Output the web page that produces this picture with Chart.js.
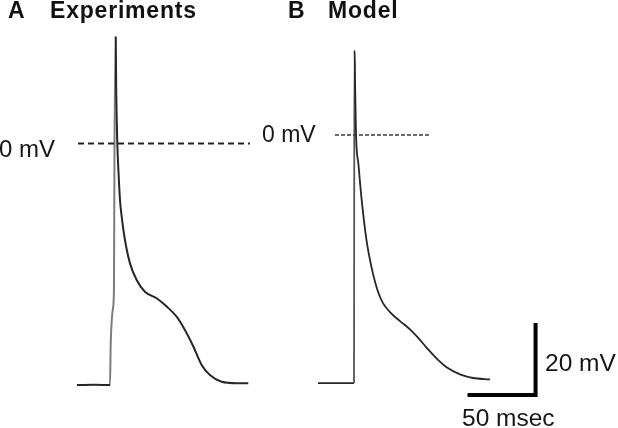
<!DOCTYPE html>
<html><head><meta charset="utf-8">
<script src="https://cdn.jsdelivr.net/npm/chart.js@4.4.0/dist/chart.umd.min.js"></script>
<style>
html,body{margin:0;padding:0;background:#fff;overflow:hidden}
#wrap{position:relative;width:618px;height:428px;overflow:hidden;background:#fff}
canvas{position:absolute;left:0;top:0}
.t{position:absolute;font-family:"Liberation Sans",Arial,Helvetica,sans-serif;line-height:1;white-space:nowrap;color:#161616}
.b{font-weight:bold;letter-spacing:0.8px;color:#111}
</style></head><body>
<div id="wrap">
<canvas id="c" width="618" height="428"></canvas>
<div class="t b" style="left:8px;top:-1px;font-size:23px">A</div>
<div class="t b" style="left:50px;top:-1px;font-size:23px">Experiments</div>
<div class="t b" style="left:288px;top:-1px;font-size:23px">B</div>
<div class="t b" style="left:328px;top:-1px;font-size:23px">Model</div>
<div class="t" style="left:-1px;top:136.5px;font-size:24px">0 mV</div>
<div class="t" style="left:262px;top:122.5px;font-size:23px">0 mV</div>
<div class="t" style="left:545px;top:351px;font-size:24.5px">20 mV</div>
<div class="t" style="left:462px;top:406px;font-size:24.5px">50 msec</div>
</div>
<script>
// ---- data (time in msec, membrane potential in mV) ----
const expTime = [-24.3, -11, 0, 0.5, 2.2, 2.9, 3.3, 4.19, 4.56, 5.37, 6.25, 7.35, 8.6, 11.0, 14.7, 19.6, 25.7, 34.3, 41.7, 49.0, 55.1, 61.3, 67.4, 73.5, 82.1, 93.2, 101.7];
const expVm   = [-67.1, -67.0, -67.1, -56.0, -45.7, -40.7, -1.8, 29.7, 14.9, 0.1, -7.9, -15.7, -20.3, -26.8, -33.3, -37.9, -41.2, -43.0, -45.3, -48.1, -51.8, -56.4, -61.5, -64.3, -66.2, -66.6, -66.6];
const modelTime = [-26.5, 0, 0.15, 0.37, 0.88, 1.47, 3.31, 5.66, 9.19, 12.87, 17.28, 21.32, 26.47, 33.82, 41.18, 47.06, 53.68, 61.03, 68.38, 77.94, 87.5, 100.0];
const modelVm   = [-68.9, -68.9, -18.1, 23.6, 12.5, 0.3, -8.3, -18.1, -29.2, -36.7, -43.1, -46.7, -49.2, -51.7, -54.0, -56.3, -59.2, -62.2, -64.6, -66.5, -67.5, -67.9];
const zeroLevel = 0;          // mV reference line
const scaleBarMs = 50;        // horizontal scale bar
const scaleBarMv = 20;        // vertical scale bar

// ---- layout (pixels) ----
const W = 618, H = 428;
const pxPerMs = 1.36, pxPerMv = 3.6;
const A = {x0: 110, y0: 143.5, zFrom: -23.5, zTo: 102.9};
const B = {x0: 354, y0: 135, zFrom: -14.0, zTo: 55.9};
const bar = {t: 83.5, v: -72.2};

function xr(p){ const mn = -p.x0/pxPerMs; return {min: mn, max: mn + W/pxPerMs}; }
function yr(p){ const mx = p.y0/pxPerMv; return {min: mx - H/pxPerMv, max: mx}; }
const pts = (xs, ys) => xs.map((x, i) => ({x, y: ys[i]}));

const traceColor = '#262626';
function seg(up){ return { borderColor: c => {
  const dx = c.p1.parsed.x - c.p0.parsed.x, dy = c.p1.parsed.y - c.p0.parsed.y;
  return (dx <= 0 || dy/dx > 5) ? up : traceColor; } }; }

const base = {pointRadius: 0, fill: false, cubicInterpolationMode: 'monotone'};
new Chart(document.getElementById('c'), {
  type: 'line',
  data: { datasets: [
    Object.assign({}, base, {data: pts([A.zFrom, A.zTo], [zeroLevel, zeroLevel]), xAxisID: 'xA', yAxisID: 'yA',
      borderColor: '#222', borderWidth: 1.8, borderDash: [6, 4]}),
    Object.assign({}, base, {data: pts(expTime, expVm), xAxisID: 'xA', yAxisID: 'yA',
      borderColor: traceColor, borderWidth: 2, segment: seg('#7c7c7c')}),
    Object.assign({}, base, {data: pts([B.zFrom, B.zTo], [zeroLevel, zeroLevel]), xAxisID: 'xB', yAxisID: 'yB',
      borderColor: '#3a3a3a', borderWidth: 1.3, borderDash: [4, 2]}),
    Object.assign({}, base, {data: pts(modelTime, modelVm), xAxisID: 'xB', yAxisID: 'yB',
      borderColor: traceColor, borderWidth: 1.8, segment: seg('#555')}),
    Object.assign({}, base, {data: pts([bar.t, bar.t + scaleBarMs, bar.t + scaleBarMs], [bar.v, bar.v, bar.v + scaleBarMv]),
      xAxisID: 'xB', yAxisID: 'yB', borderColor: '#000', borderWidth: 4, cubicInterpolationMode: 'default', tension: 0,
      borderJoinStyle: 'miter', borderCapStyle: 'butt'})
  ]},
  options: {
    responsive: false, animation: false, events: [],
    layout: {padding: 0},
    plugins: {legend: {display: false}, tooltip: {enabled: false}},
    scales: {
      xA: Object.assign({type: 'linear', display: false}, xr(A)),
      yA: Object.assign({type: 'linear', display: false}, yr(A)),
      xB: Object.assign({type: 'linear', display: false}, xr(B)),
      yB: Object.assign({type: 'linear', display: false}, yr(B))
    }
  }
});
</script>
</body></html>
